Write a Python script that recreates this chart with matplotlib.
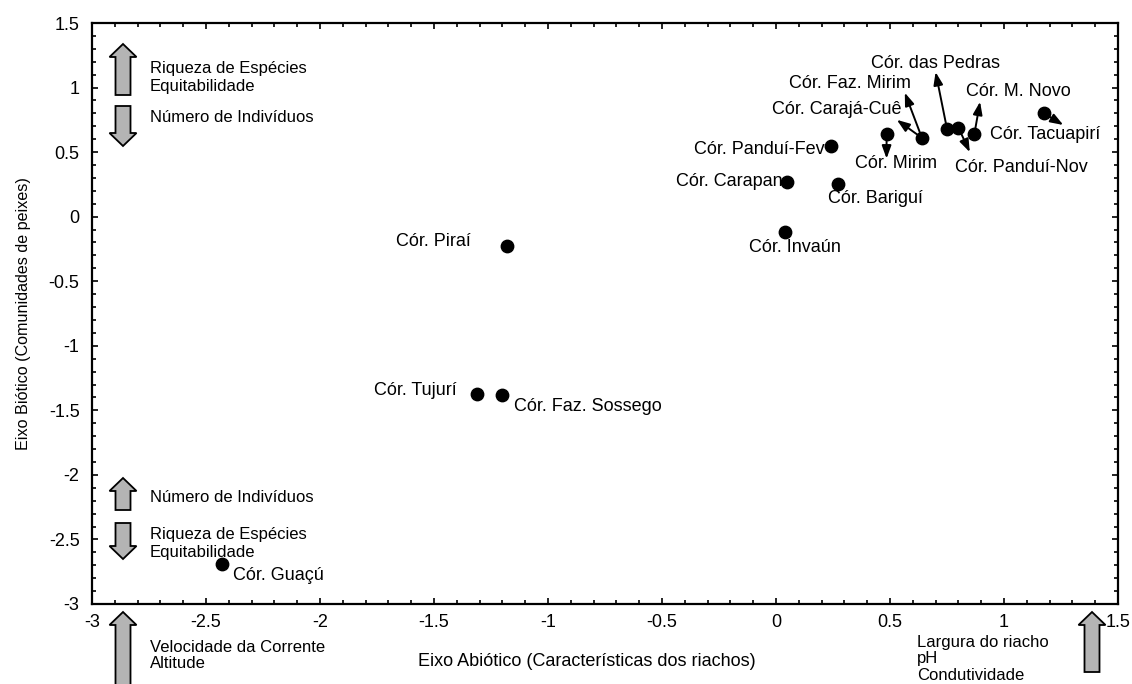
import matplotlib
matplotlib.use("Agg")
import matplotlib.pyplot as plt
from matplotlib.patches import FancyArrow
from matplotlib.ticker import MultipleLocator, FuncFormatter

plt.rcParams['font.family'] = ['Liberation Sans', 'DejaVu Sans']

# Stream sites: abiotic axis (x) and biotic axis (y) scores
sites = ["Cór. Guaçú", "Cór. Tujurí", "Cór. Faz. Sossego", "Cór. Piraí",
         "Cór. Invaún", "Cór. Carapan", "Cór. Bariguí", "Cór. Panduí-Fev",
         "Cór. Mirim", "Cór. Faz. Mirim", "Cór. das Pedras", "Cór. Panduí-Nov",
         "Cór. M. Novo", "Cór. Tacuapirí"]
abiotic = [-2.43, -1.31, -1.20, -1.18, 0.04, 0.05, 0.27, 0.24,
           0.485, 0.64, 0.75, 0.80, 0.87, 1.175]
biotic = [-2.69, -1.37, -1.38, -0.23, -0.12, 0.27, 0.25, 0.55,
          0.64, 0.61, 0.68, 0.69, 0.64, 0.80]

# Label layout: (x, y, horizontal alignment, arrow tip or None)
label_layout = {
    "Cór. Guaçú":        (-2.38, -2.78, "left", None),
    "Cór. Tujurí":       (-1.40, -1.35, "right", None),
    "Cór. Faz. Sossego": (-1.15, -1.47, "left", None),
    "Cór. Piraí":        (-1.34, -0.19, "right", None),
    "Cór. Invaún":       (-0.12, -0.24, "left", None),
    "Cór. Carapan":      (0.03, 0.27, "right", None),
    "Cór. Bariguí":      (0.23, 0.14, "left", None),
    "Cór. Panduí-Fev":   (0.215, 0.52, "right", None),
    "Cór. Mirim":        (0.345, 0.41, "left", (0.485, 0.45)),
    "Cór. Faz. Mirim":   (0.59, 1.03, "right", (0.565, 0.96)),
    "Cór. das Pedras":   (0.70, 1.19, "center", (0.70, 1.12)),
    "Cór. Panduí-Nov":   (0.785, 0.38, "left", (0.85, 0.50)),
    "Cór. M. Novo":      (0.835, 0.97, "left", (0.895, 0.89)),
    "Cór. Tacuapirí":    (0.94, 0.64, "left", (1.26, 0.71)),
}
# Extra leader from the Faz. Mirim point toward the Carajá-Cuê label
caraja_label = ("Cór. Carajá-Cuê", 0.55, 0.83, "right", (0.53, 0.75))

LABEL_FS = 13

fig = plt.figure(figsize=(11.32, 6.84), dpi=100)
ax = fig.add_axes([92 / 1132, 80 / 684, 1026 / 1132, 581 / 684])

ax.scatter(abiotic, biotic, s=80, color="black", zorder=3)

arrow_kw = dict(arrowstyle="-|>,head_length=0.55,head_width=0.2", color="black",
                lw=1.4, mutation_scale=14, shrinkA=0, shrinkB=0)
for name, x, y in zip(sites, abiotic, biotic):
    lx, ly, ha, tip = label_layout[name]
    ax.text(lx, ly, name, ha=ha, va="center", fontsize=LABEL_FS)
    if tip is not None:
        ax.annotate("", xy=tip, xytext=(x, y), arrowprops=arrow_kw)

fm_idx = sites.index("Cór. Faz. Mirim")
cname, cx, cy, cha, ctip = caraja_label
ax.text(cx, cy, cname, ha=cha, va="center", fontsize=LABEL_FS)
ax.annotate("", xy=ctip, xytext=(abiotic[fm_idx], biotic[fm_idx]),
            arrowprops=arrow_kw)

ax.set_xlim(-3, 1.5)
ax.set_ylim(-3, 1.5)
ax.xaxis.set_major_locator(MultipleLocator(0.5))
ax.xaxis.set_minor_locator(MultipleLocator(0.1))
ax.yaxis.set_major_locator(MultipleLocator(0.5))
ax.yaxis.set_minor_locator(MultipleLocator(0.1))
ax.xaxis.set_major_formatter(FuncFormatter(lambda v, p: f"{v:g}"))
ax.yaxis.set_major_formatter(FuncFormatter(lambda v, p: f"{v:g}"))
ax.tick_params(which="both", direction="in", top=True, right=True,
               labelsize=13, width=1.2)
ax.tick_params(which="major", length=4)
ax.tick_params(axis="x", which="major", pad=7)
ax.tick_params(axis="y", which="major", pad=9)
ax.tick_params(which="minor", length=3)
for sp in ax.spines.values():
    sp.set_linewidth(1.6)

ax.set_xlabel("Eixo Abiótico (Características dos riachos)", fontsize=13)
ax.xaxis.set_label_coords(0.482, -0.085)
ax.set_ylabel("Eixo Biótico (Comunidades de peixes)", fontsize=11.6, labelpad=13)


def block_arrow(x, y_tail, y_head):
    """Grey block arrow in pixel coordinates (origin at top-left)."""
    W, H = 1132, 684
    dy = y_head - y_tail
    arr = FancyArrow(x / W, (H - y_tail) / H, 0, -dy / H,
                     width=15 / W, head_width=27 / W, head_length=13 / H,
                     length_includes_head=True, transform=fig.transFigure,
                     facecolor="#b4b4b4", edgecolor="black", lw=1.3,
                     clip_on=False)
    fig.patches.append(arr)


block_arrow(123, 95, 44)
block_arrow(123, 106, 146)
block_arrow(123, 510, 478)
block_arrow(123, 523, 559)
block_arrow(123, 690, 612)
block_arrow(1092, 672, 612)

SIDE_FS = 12


def ptext(x, y, s):
    fig.text(x / 1132, 1 - y / 684, s, fontsize=SIDE_FS, va="center", ha="left")


ptext(150, 68, "Riqueza de Espécies")
ptext(150, 86, "Equitabilidade")
ptext(150, 117, "Número de Indivíduos")
ptext(150, 497, "Número de Indivíduos")
ptext(150, 535, "Riqueza de Espécies")
ptext(150, 553, "Equitabilidade")
ptext(150, 647, "Velocidade da Corrente")
ptext(150, 663, "Altitude")
ptext(917, 642, "Largura do riacho")
ptext(917, 659, "pH")
ptext(917, 676, "Condutividade")

fig.savefig("out.png", dpi=100, facecolor="white")
